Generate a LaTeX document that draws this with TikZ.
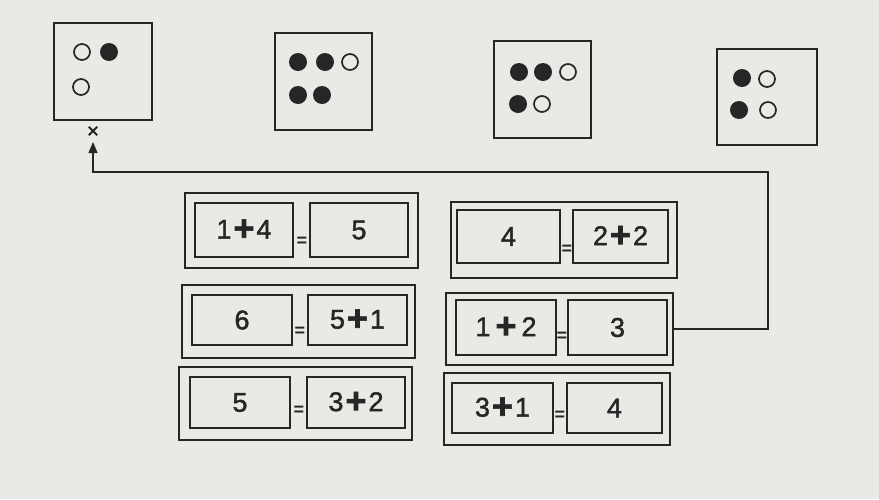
\documentclass[tikz,border=0pt]{standalone}
\usepackage{fontspec}
\setmainfont{Liberation Sans}
\newfontfamily\cardfont[FakeBold=1.6]{Liberation Sans}
\usetikzlibrary{arrows.meta,calc}
\definecolor{paper}{RGB}{233,233,230}
\definecolor{ink}{RGB}{38,38,38}
\newcommand{\bigplus}{\kern2pt\raisebox{-2pt}{\fontsize{36}{36}\selectfont\bfseries +}\kern2pt}
\begin{document}
\begin{tikzpicture}[x=1pt,y=-1pt,
  die/.style={draw=ink,line width=1.4pt,inner sep=0},
  pipfull/.style={circle,fill=ink,minimum size=18pt,inner sep=0},
  pipopen/.style={circle,draw=ink,line width=1.7pt,minimum size=16pt,inner sep=0},
  outerbox/.style={draw=ink,line width=1.9pt,inner sep=0},
  card/.style={draw=ink,line width=1.4pt,inner sep=0,text=ink,font=\cardfont\fontsize{27}{27}\selectfont},
  eqs/.style={font=\fontsize{18}{18}\selectfont\bfseries,inner sep=0,text=ink},
  conn/.style={draw=ink,line width=1.1pt}]
\fill[paper] (0,0) rectangle (879,499);
\useasboundingbox (0,0) rectangle (879,499);
% dice
\node[die,minimum width=98pt,minimum height=97pt] (d1) at (103,71.5) {};
\node[die,minimum width=97pt,minimum height=97pt] (d2) at (323.5,81.5) {};
\node[die,minimum width=97pt,minimum height=97pt] (d3) at (542.5,89.5) {};
\node[die,minimum width=100pt,minimum height=96pt] (d4) at (767,97) {};
% pips
\node[pipopen] (p11) at (82,52) {};
\node[pipfull] (p12) at (109,52) {};
\node[pipopen] (p13) at (81,87) {};
\node[pipfull] (p21) at (298,62) {};
\node[pipfull] (p22) at (325,62) {};
\node[pipopen] (p23) at (350,62) {};
\node[pipfull] (p24) at (298,95) {};
\node[pipfull] (p25) at (322,95) {};
\node[pipfull] (p31) at (519,72) {};
\node[pipfull] (p32) at (543,72) {};
\node[pipopen] (p33) at (568,72) {};
\node[pipfull] (p34) at (518,104) {};
\node[pipopen] (p35) at (542,104) {};
\node[pipfull] (p41) at (742,78) {};
\node[pipopen] (p42) at (767,79) {};
\node[pipfull] (p43) at (739,110) {};
\node[pipopen] (p44) at (768,110) {};
% cross mark
\node[minimum size=8pt,inner sep=0] (xm) at (93,131) {};
\draw[ink,line width=2pt] (xm.north west) -- (xm.south east) (xm.north east) -- (xm.south west);
% equation boxes, left column
\node[outerbox,minimum width=233pt,minimum height=75pt] (L1) at (301.5,230.5) {};
\node[card,minimum width=98pt,minimum height=54pt] (L1a) at (244,230) {1\bigplus4};
\node[card,minimum width=98pt,minimum height=54pt] (L1b) at (359,230) {5};
\node[eqs] (L1e) at (302,242) {=};
\node[outerbox,minimum width=233pt,minimum height=73pt] (L2) at (298.5,321.5) {};
\node[card,minimum width=100pt,minimum height=50pt] (L2a) at (242,320) {6};
\node[card,minimum width=99pt,minimum height=50pt] (L2b) at (357.5,320) {5\bigplus1};
\node[eqs] (L2e) at (300,332) {=};
\node[outerbox,minimum width=233pt,minimum height=73pt] (L3) at (295.5,403.5) {};
\node[card,minimum width=100pt,minimum height=51pt] (L3a) at (240,402.5) {5};
\node[card,minimum width=98pt,minimum height=51pt] (L3b) at (356,402.5) {3\bigplus2};
\node[eqs] (L3e) at (299,411) {=};
% equation boxes, right column
\node[outerbox,minimum width=226pt,minimum height=76pt] (R1) at (564,240) {};
\node[card,minimum width=103pt,minimum height=53pt] (R1a) at (508.5,236.5) {4};
\node[card,minimum width=95pt,minimum height=53pt] (R1b) at (620.5,236.5) {2\bigplus2};
\node[eqs] (R1e) at (567,250) {=};
\node[outerbox,minimum width=227pt,minimum height=72pt] (R2) at (559.5,329) {};
\node[card,minimum width=100pt,minimum height=55pt] (R2a) at (506,327.5) {1\kern3pt\bigplus\kern3pt2};
\node[card,minimum width=99pt,minimum height=55pt] (R2b) at (617.5,327.5) {3};
\node[eqs] (R2e) at (562,337) {=};
\node[outerbox,minimum width=226pt,minimum height=72pt] (R3) at (557,409) {};
\node[card,minimum width=101pt,minimum height=50pt] (R3a) at (502.5,408) {3\bigplus1};
\node[card,minimum width=95pt,minimum height=50pt] (R3b) at (614.5,408) {4};
\node[eqs] (R3e) at (560,416) {=};
% connector
\coordinate (bend) at (768,172);
\coordinate (tip) at (93,142);
\draw[conn,-{Triangle[width=9pt,length=11pt]}] (R2.east) -| (bend) -| (tip);
\end{tikzpicture}
\end{document}
